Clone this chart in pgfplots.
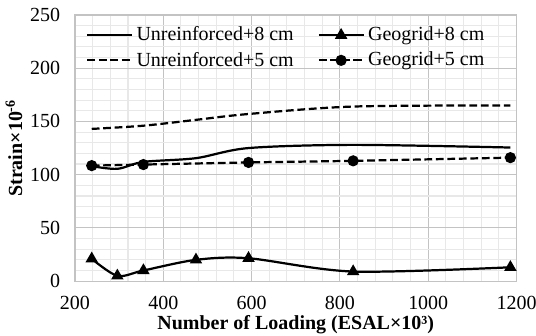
\documentclass[border=0pt]{standalone}
\usepackage{fontspec}
\setmainfont{Liberation Serif}
\usepackage{pgfplots}
\pgfplotsset{compat=1.18}
\definecolor{majgrid}{RGB}{195,195,195}
\definecolor{mingrid}{RGB}{232,232,232}
\begin{document}
\begin{tikzpicture}
\useasboundingbox (-40.5pt,-29.2pt) rectangle (249.1pt,151.9pt);
\begin{axis}[
  at={(0pt,0pt)}, anchor=south west,
  scale only axis, width=238.6pt, height=143.8pt,
  xmin=200, xmax=1200, ymin=0, ymax=250,
  xtick={200,400,...,1200}, ytick={0,50,...,250},
  minor x tick num=4, minor y tick num=4,
  grid=both,
  major grid style={majgrid, line width=0.6pt},
  minor grid style={mingrid, line width=0.6pt},
  axis line style={majgrid, line width=0.6pt},
  tick style={draw=none},
  /pgf/number format/assume math mode=true,
  /pgf/number format/1000 sep={},
  tick label style={font=\fontsize{10.8}{13}\selectfont},
  xticklabel style={yshift=-4.5pt},
  yticklabel style={xshift=-4.5pt},
  xlabel={\textbf{Number of Loading (ESAL×10³)}},
  ylabel={\textbf{Strain×10\textsuperscript{-6}}},
  label style={font=\fontsize{10.8}{13}\selectfont},
  xlabel style={at={(axis description cs:0.5,-0.162)}, anchor=center},
  ylabel style={at={(axis description cs:-0.138,0.5)}, anchor=center},
  legend columns=2,
  legend style={draw=none, fill=none, at={(rel axis cs:0.012,0.985)}, anchor=north west,
    font=\fontsize{10.8}{13}\selectfont, row sep=0.5pt,
    /tikz/every even column/.append style={column sep=11pt}},
  legend cell align=left,
  legend image code/.code={\draw[mark repeat=2,mark phase=2,#1] plot coordinates {(0pt,0pt) (12pt,0pt) (24pt,0pt)};},
]
\addplot[black, line width=1.2pt, smooth, no markers] coordinates {
 (238,108) (296,105.5) (355,112) (474,115.5) (593,125) (830,128) (1186,125.5)};
\addlegendentry{Unreinforced+8 cm}
\addplot[black, line width=1.2pt, smooth, mark=triangle*, mark size=2.7pt, mark options={solid}] coordinates {
 (238,21) (296,5) (355,10) (474,20) (593,21.5) (830,9) (1186,13)};
\addlegendentry{Geogrid+8 cm}
\addplot[black, line width=1.2pt, smooth, no markers, dash pattern=on 4.2pt off 2pt] coordinates {
 (238,143) (355,146) (474,151.5) (593,157) (830,164) (1186,165)};
\addlegendentry{Unreinforced+5 cm}
\addplot[black, line width=1.2pt, smooth, mark=*, mark size=2.4pt, mark options={solid}, dash pattern=on 4.2pt off 2pt] coordinates {
 (238,108.5) (355,109.5) (593,111.5) (830,113) (1186,116)};
\addlegendentry{Geogrid+5 cm}
\end{axis}
\end{tikzpicture}
\end{document}
